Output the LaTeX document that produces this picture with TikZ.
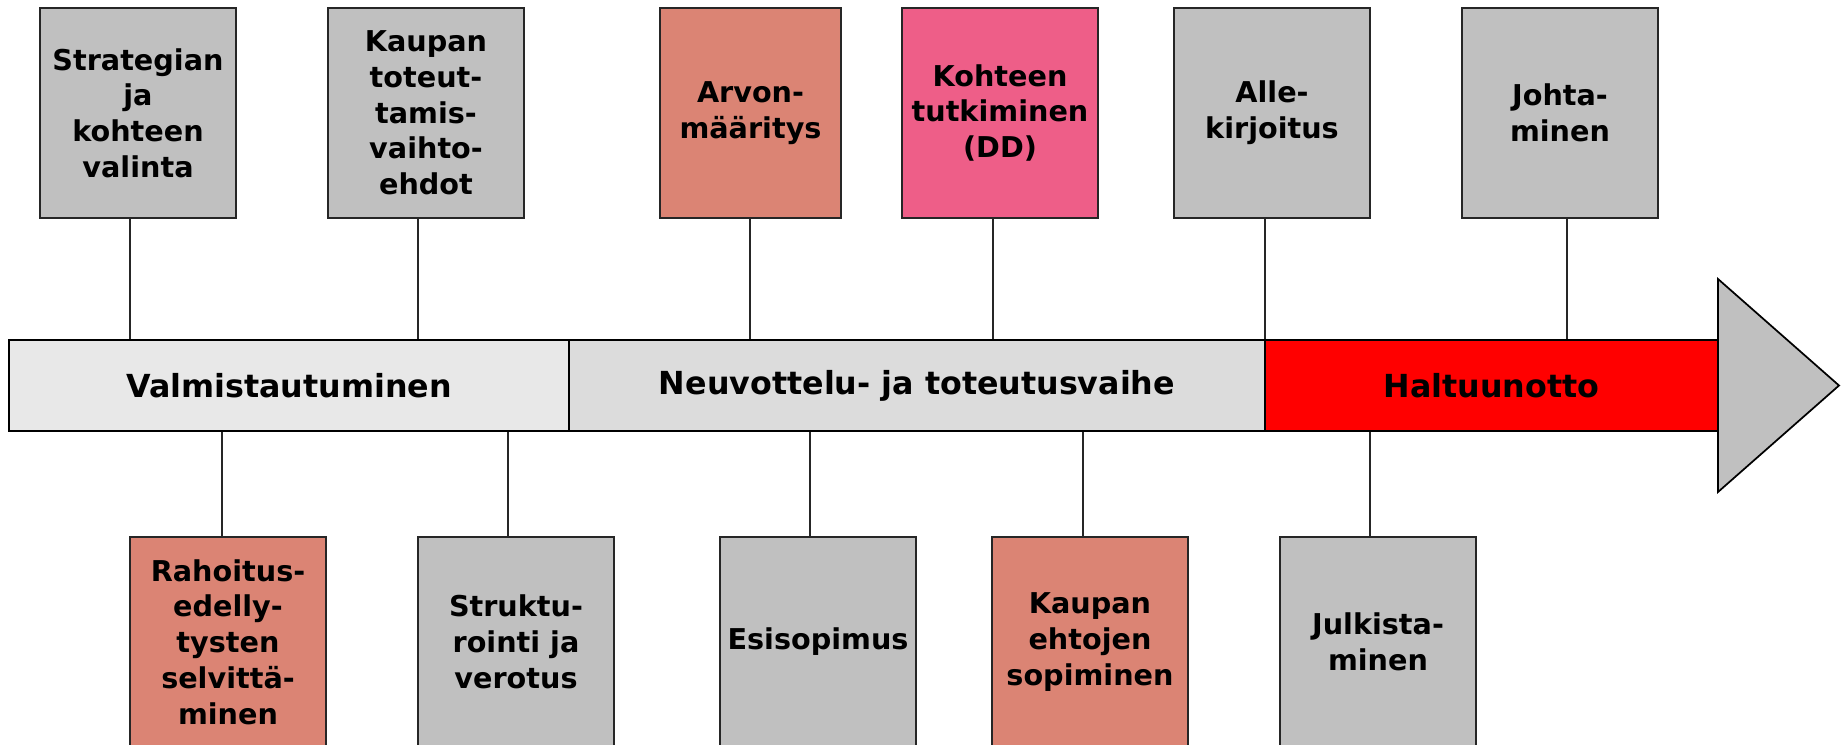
\documentclass[tikz,border=0pt]{standalone}
\usepackage{fontspec}
\setmainfont{DejaVu Sans}
\definecolor{boxgray}{HTML}{C0C0C0}
\definecolor{salmon}{HTML}{DB8474}
\definecolor{pinkish}{HTML}{EE5E88}
\definecolor{seg1}{HTML}{E8E8E8}
\definecolor{seg2}{HTML}{DCDCDC}
\begin{document}
\begin{tikzpicture}[x=0.75pt,y=-0.75pt,
  taskbox/.style={draw=black!85,line width=1.2pt,minimum width=147pt,minimum height=157.5pt,
    inner sep=0pt,align=center,font=\fontsize{21.5}{26.8}\selectfont\bfseries},
  phase/.style={draw=black,line width=1.6pt,minimum height=68.25pt,inner sep=0pt,
    font=\fontsize{23.8}{28}\selectfont\bfseries},
  link/.style={draw=black!85,line width=0.9pt}]
\useasboundingbox (0,0) rectangle (1841,745);
\clip (0,0) rectangle (1841,745);
% timeline bar
\node[phase,fill=seg1,minimum width=420pt] (v) at (289,385.5) {Valmistautuminen};
\node[phase,fill=seg2,minimum width=522pt] (n) at (917,385.5) {Neuvottelu- ja toteutusvaihe};
\node[phase,fill=red,minimum width=339.75pt] (h) at (1491.5,385.5) {Haltuunotto};
\draw[line width=1.3pt,fill=boxgray] (1718,279) -- (1839,385.5) -- (1718,492) -- cycle;
% top boxes
\node[taskbox,fill=boxgray] (t1) at (138,113) {Strategian\\ja\\kohteen\\valinta};
\node[taskbox,fill=boxgray] (t2) at (426,113) {Kaupan\\toteut-\\tamis-\\vaihto-\\ehdot};
\node[taskbox,fill=salmon,minimum width=135.75pt] (t3) at (750.5,113) {Arvon-\\määritys};
\node[taskbox,fill=pinkish] (t4) at (1000,113) {Kohteen\\tutkiminen\\(DD)};
\node[taskbox,fill=boxgray] (t5) at (1272,113) {Alle-\\kirjoitus};
\node[taskbox,fill=boxgray] (t6) at (1560,113) {Johta-\\minen};
% bottom boxes
\node[taskbox,fill=salmon] (b1) at (228,642) {Rahoitus-\\edelly-\\tysten\\selvittä-\\minen};
\node[taskbox,fill=boxgray] (b2) at (516,642) {Struktu-\\rointi ja\\verotus};
\node[taskbox,fill=boxgray] (b3) at (818,642) {Esisopimus};
\node[taskbox,fill=salmon] (b4) at (1090,642) {Kaupan\\ehtojen\\sopiminen};
\node[taskbox,fill=boxgray] (b5) at (1378,642) {Julkista-\\minen};
% connectors top
\draw[link] ([xshift=-6pt]t1.south) -- ([xshift=-6pt]t1.south |- v.north);
\draw[link] ([xshift=-6pt]t2.south) -- ([xshift=-6pt]t2.south |- v.north);
\draw[link] ([xshift=-0.4pt]t3.south) -- ([xshift=-0.4pt]t3.south |- n.north);
\draw[link] ([xshift=-5.25pt]t4.south) -- ([xshift=-5.25pt]t4.south |- n.north);
\draw[link] ([xshift=-5.25pt]t5.south) -- ([xshift=-5.25pt]t5.south |- h.north);
\draw[link] ([xshift=5.25pt]t6.south) -- ([xshift=5.25pt]t6.south |- h.north);
% connectors bottom
\draw[link] ([xshift=-4.5pt]b1.north) -- ([xshift=-4.5pt]b1.north |- v.south);
\draw[link] ([xshift=-6pt]b2.north) -- ([xshift=-6pt]b2.north |- v.south);
\draw[link] ([xshift=-6pt]b3.north) -- ([xshift=-6pt]b3.north |- n.south);
\draw[link] ([xshift=-5.25pt]b4.north) -- ([xshift=-5.25pt]b4.north |- n.south);
\draw[link] ([xshift=-6pt]b5.north) -- ([xshift=-6pt]b5.north |- h.south);
\end{tikzpicture}
\end{document}
